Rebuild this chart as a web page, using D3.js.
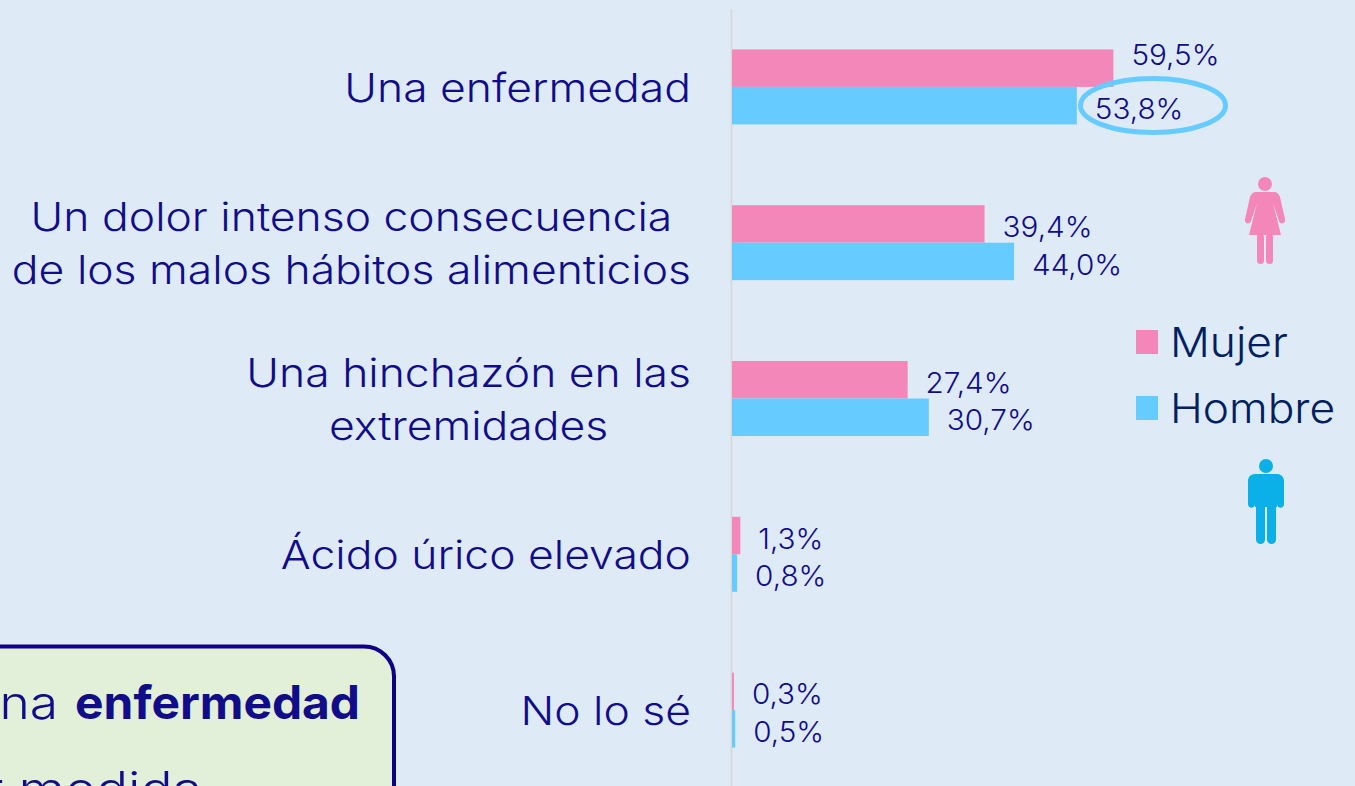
<!DOCTYPE html>
<html lang="es">
<head>
<meta charset="utf-8">
<title>Una enfermedad</title>
<script src="https://cdn.jsdelivr.net/npm/d3@7/dist/d3.min.js"></script>
<style>
  html, body { margin: 0; padding: 0; background: #deeaf6; overflow: hidden; }
  svg { display: block; }
  text { font-family: Inter, "Open Sans", sans-serif; font-weight: 300; }
  .cat { font-size: 39px; fill: #100c8a; }
  .val { font-size: 28px; fill: #100c8a; }
  .leg { font-size: 41px; fill: #002060; }
  .note { font-size: 46px; fill: #100c8a; }
  .note.b { font-weight: 700; }
</style>
</head>
<body>
<svg id="chart" width="1355" height="786"></svg>
<script>
// ---------- data ----------
var categories = [
  ["Una enfermedad"],
  ["Un dolor intenso consecuencia", "de los malos hábitos alimenticios"],
  ["Una hinchazón en las", "extremidades"],
  ["Ácido úrico elevado"],
  ["No lo sé"]
];
var seriesNames = ["Mujer", "Hombre"];
var mujer = [59.5, 39.4, 27.4, 1.3, 0.3];
var hombre = [53.8, 44.0, 30.7, 0.8, 0.5];

var colors = { Mujer: "#f487b9", Hombre: "#66ccff" };
var fmt = d3.formatLocale({ decimal: ",", thousands: ".", grouping: [3], currency: ["", ""] }).format(".1f");

// the original face is a wide geometric one, so widen the installed one to the same measure
function widen(sel, k) {
  sel.each(function () {
    var w = this.getComputedTextLength();
    d3.select(this).attr("textLength", w * k).attr("lengthAdjust", "spacingAndGlyphs");
  });
}

var svg = d3.select("#chart");
svg.append("rect").attr("width", 1355).attr("height", 786).attr("fill", "#deeaf6");

// ---------- scales ----------
var x0 = 732, labelRight = 691, catWiden = 1.14;
var x = d3.scaleLinear().domain([0, 100]).range([x0, x0 + 641]);
var y = d3.scaleBand().domain(d3.range(categories.length)).range([9, 788]);
var yBar = d3.scaleBand().domain(seriesNames).range([0, 75]);
var bandPad = (y.bandwidth() - 75) / 2;

// ---------- axis line ----------
var axis = d3.axisLeft(y).tickSize(0).tickFormat("");
var axisG = svg.append("g").attr("transform", "translate(" + (x0 - 1) + ",0)").call(axis);
axisG.select(".domain").attr("stroke", "#d9d9d9").attr("stroke-width", 2);

// ---------- bars + labels ----------
seriesNames.forEach(function (name, s) {
  var vals = s === 0 ? mujer : hombre;
  var g = svg.append("g");
  g.selectAll("rect").data(vals).enter().append("rect")
    .attr("x", x0)
    .attr("y", function (d, i) { return y(i) + bandPad + yBar(name); })
    .attr("width", function (d) { return x(d) - x0; })
    .attr("height", yBar.bandwidth())
    .attr("fill", colors[name]);
  var labels = g.selectAll("text").data(vals).enter().append("text")
    .attr("class", "val")
    .attr("x", function (d) { return x(d) + 18; })
    .attr("y", function (d, i) {
      var cy = y(i) + bandPad + yBar(name) + yBar.bandwidth() / 2;
      // la primera etiqueta va subida para dejar sitio al óvalo
      return cy + (s === 0 && i === 0 ? -13 : 3);
    })
    .attr("dy", "0.36em")
    .text(function (d) { return fmt(d) + "%"; });
  widen(labels, 1.06);
});

// ---------- category labels (centred lines, block flush right) ----------
categories.forEach(function (lines, i) {
  var cy = y(i) + y.bandwidth() / 2 + 1;
  var g = svg.append("g");
  var t = g.selectAll("text").data(lines).enter().append("text")
    .attr("class", "cat")
    .attr("text-anchor", "middle")
    .attr("y", function (d, k) { return cy + (k - (lines.length - 1) / 2) * 53; })
    .attr("dy", "0.36em")
    .text(function (d) { return d; });
  var w = d3.max(t.nodes(), function (n) { return n.getComputedTextLength(); }) * catWiden;
  t.attr("x", labelRight - w / 2);
  widen(t, catWiden);
});

// ---------- highlight ring ----------
svg.append("ellipse")
  .attr("cx", 1153).attr("cy", 105.5).attr("rx", 72.5).attr("ry", 27)
  .attr("fill", "none").attr("stroke", "#66ccff").attr("stroke-width", 5);

// ---------- legend ----------
var legendY = d3.scaleOrdinal().domain(seriesNames).range([342, 408]);
var leg = svg.append("g");
leg.selectAll("rect").data(seriesNames).enter().append("rect")
  .attr("x", 1136).attr("y", function (d) { return legendY(d) - 12; })
  .attr("width", 22).attr("height", 24)
  .attr("fill", function (d) { return colors[d]; });
var legText = leg.selectAll("text").data(seriesNames).enter().append("text")
  .attr("class", "leg")
  .attr("x", 1170).attr("y", function (d) { return legendY(d) + 15; })
  .text(function (d) { return d; });
widen(legText, 1.08);

// ---------- figures ----------
var woman = svg.append("g").attr("transform", "translate(1265,0)").attr("fill", "#f487b9");
woman.append("circle").attr("cy", 184).attr("r", 7);
woman.append("path").attr("d",
  "M-9,192H9C12,192 14,194 15,197L20,219C21,224 15,225 14,221L8,203L16,235H-16L-8,203L-14,221C-15,225 -21,224 -20,219L-15,197C-14,194 -12,192 -9,192Z");
woman.append("rect").attr("x", -8).attr("y", 234).attr("width", 7).attr("height", 30).attr("rx", 3.5);
woman.append("rect").attr("x", 1).attr("y", 234).attr("width", 7).attr("height", 30).attr("rx", 3.5);

var man = svg.append("g").attr("transform", "translate(1266,0)").attr("fill", "#0bb0e8");
man.append("circle").attr("cy", 466).attr("r", 7);
man.append("path").attr("d",
  "M-11,474H11C15,474 18,477 18,481V504C18,509 11,509 11,504V507H-11V504C-11,509 -18,509 -18,504V481C-18,477 -15,474 -11,474Z");
man.append("rect").attr("x", -10).attr("y", 500).attr("width", 9).attr("height", 44).attr("rx", 4.5);
man.append("rect").attr("x", 1).attr("y", 500).attr("width", 9).attr("height", 44).attr("rx", 4.5);

// ---------- note box (cut by the slide edge) ----------
svg.append("rect")
  .attr("x", -40).attr("y", 646.5).attr("width", 434).attr("height", 200).attr("rx", 30)
  .attr("fill", "#e2efd9").attr("stroke", "#100088").attr("stroke-width", 4);
var n0 = svg.append("text").attr("class", "note").attr("text-anchor", "end").attr("x", 58).attr("y", 719).text("Una");
widen(n0, 1.12);
var n1 = svg.append("text").attr("class", "note b").attr("text-anchor", "end").attr("x", 360).attr("y", 719).text("enfermedad");
widen(n1, 1.04);
var n2 = svg.append("text").attr("class", "note").attr("text-anchor", "end").attr("x", 202).attr("y", 805).text("mayor medida");
widen(n2, 1.16);
</script>
</body>
</html>
